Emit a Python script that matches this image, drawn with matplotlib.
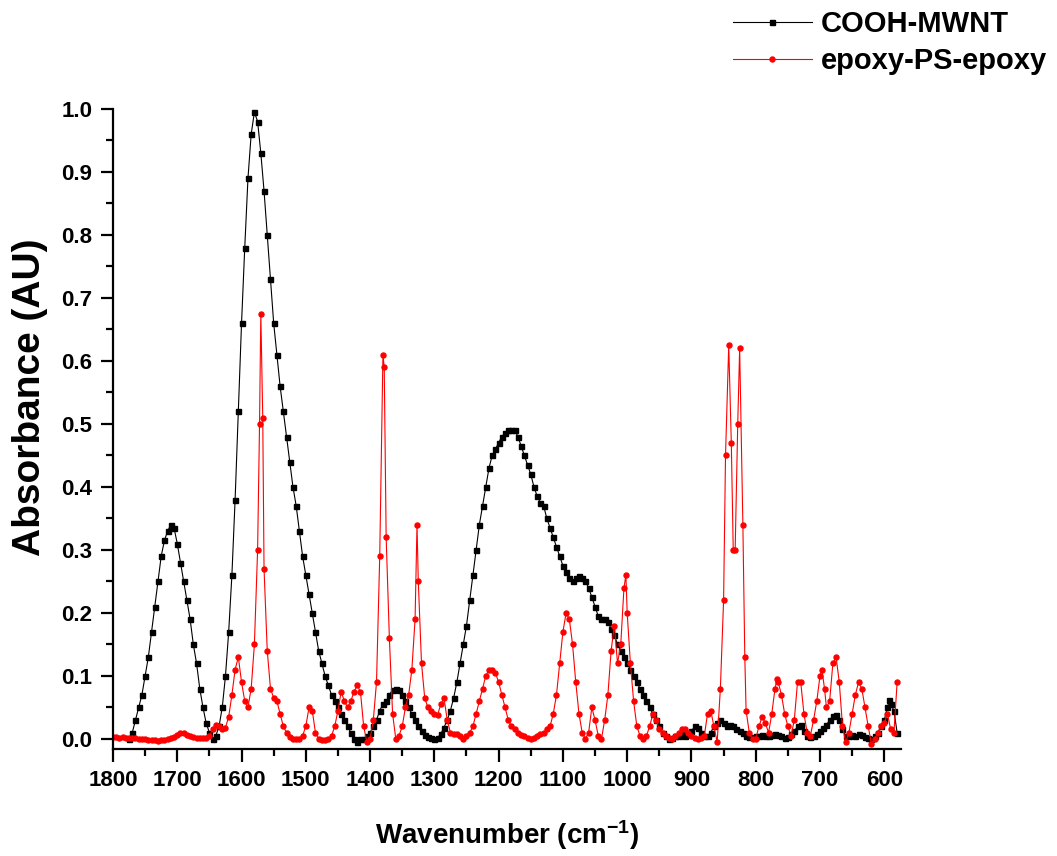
import matplotlib
matplotlib.use("Agg")
import matplotlib.pyplot as plt
from matplotlib.ticker import MultipleLocator, FormatStrFormatter

# ---------------- data ----------------
wn_cooh = [1775, 1770, 1765, 1760, 1755, 1750, 1745, 1740, 1735, 1730, 1725, 1720, 1715, 1710, 1705,
           1700, 1695, 1690, 1685, 1680, 1675, 1670, 1665, 1660, 1655, 1650, 1645, 1640, 1635, 1630,
           1625, 1620, 1615, 1610, 1605, 1600, 1595, 1590, 1585, 1580, 1575, 1570, 1565, 1560, 1555,
           1550, 1545, 1540, 1535, 1530, 1525, 1520, 1515, 1510, 1505, 1500, 1495, 1490, 1485, 1480,
           1475, 1470, 1465, 1460, 1455, 1450, 1445, 1440, 1435, 1430, 1425, 1420, 1415, 1410, 1405,
           1400, 1395, 1390, 1385, 1380, 1375, 1370, 1365, 1360, 1355, 1350, 1345, 1340, 1335, 1330,
           1325, 1320, 1315, 1310, 1305, 1300, 1295, 1290, 1285, 1280, 1275, 1270, 1265, 1260, 1255,
           1250, 1245, 1240, 1235, 1230, 1225, 1220, 1215, 1210, 1205, 1200, 1195, 1190, 1185, 1180,
           1175, 1170, 1165, 1160, 1155, 1150, 1145, 1140, 1135, 1130, 1125, 1120, 1115, 1110, 1105,
           1100, 1095, 1090, 1085, 1080, 1075, 1070, 1065, 1060, 1055, 1050, 1045, 1040, 1035, 1030,
           1025, 1020, 1015, 1010, 1005, 1000, 995, 990, 985, 980, 975, 970, 965, 960, 955,
           950, 945, 940, 935, 930, 925, 920, 915, 910, 905, 900, 895, 890, 885, 880,
           875, 870, 865, 860, 855, 850, 845, 840, 835, 830, 825, 820, 815, 810, 805,
           800, 795, 790, 785, 780, 775, 770, 765, 760, 755, 750, 745, 740, 735, 730,
           725, 720, 715, 710, 705, 700, 695, 690, 685, 680, 675, 670, 665, 660, 655,
           650, 645, 640, 635, 630, 625, 620, 615, 610, 605, 600, 595, 592, 590, 585, 580]
ab_cooh = [0.0, 0.01, 0.03, 0.05, 0.07, 0.10, 0.13, 0.17, 0.21, 0.25, 0.29, 0.315, 0.33, 0.34, 0.335,
           0.31, 0.28, 0.25, 0.22, 0.19, 0.15, 0.12, 0.08, 0.05, 0.025, 0.01, 0.0, 0.005, 0.02, 0.05,
           0.10, 0.17, 0.26, 0.38, 0.52, 0.66, 0.78, 0.89, 0.96, 0.995, 0.98, 0.93, 0.87, 0.80, 0.73,
           0.66, 0.61, 0.56, 0.52, 0.48, 0.44, 0.40, 0.37, 0.33, 0.29, 0.26, 0.23, 0.20, 0.17, 0.14,
           0.12, 0.10, 0.085, 0.07, 0.06, 0.05, 0.04, 0.03, 0.02, 0.01, 0.0, -0.005, 0.0, 0.0, 0.005,
           0.01, 0.02, 0.03, 0.045, 0.055, 0.06, 0.07, 0.078, 0.08, 0.078, 0.07, 0.06, 0.05, 0.04, 0.03,
           0.02, 0.013, 0.007, 0.003, 0.001, 0.0, 0.002, 0.008, 0.018, 0.03, 0.045, 0.065, 0.09, 0.12, 0.15,
           0.18, 0.22, 0.26, 0.30, 0.34, 0.37, 0.40, 0.43, 0.45, 0.46, 0.47, 0.48, 0.485, 0.49, 0.49,
           0.49, 0.48, 0.465, 0.45, 0.435, 0.42, 0.40, 0.385, 0.375, 0.37, 0.35, 0.335, 0.32, 0.305, 0.29,
           0.275, 0.265, 0.255, 0.25, 0.255, 0.258, 0.255, 0.25, 0.24, 0.225, 0.21, 0.195, 0.19, 0.19, 0.185,
           0.175, 0.165, 0.15, 0.14, 0.13, 0.12, 0.11, 0.10, 0.09, 0.08, 0.07, 0.06, 0.05, 0.04, 0.03,
           0.02, 0.01, 0.005, 0.0, 0.002, 0.005, 0.005, 0.008, 0.005, 0.008, 0.012, 0.02, 0.018, 0.01, 0.005,
           0.005, 0.01, 0.02, 0.025, 0.03, 0.025, 0.02, 0.022, 0.02, 0.015, 0.012, 0.01, 0.005, 0.003, 0.003,
           0.005, 0.004, 0.006, 0.004, 0.005, 0.007, 0.008, 0.007, 0.005, 0.002, 0.003, 0.008, 0.012, 0.02, 0.022,
           0.012, 0.005, 0.003, 0.004, 0.008, 0.012, 0.018, 0.022, 0.03, 0.036, 0.038, 0.03, 0.015, 0.005, 0.004,
           0.006, 0.005, 0.008, 0.006, 0.003, 0.002, 0.0, 0.005, 0.01, 0.02, 0.03, 0.05, 0.062, 0.055, 0.045, 0.01]

wn_eps = [1800, 1795, 1790, 1785, 1780, 1775, 1770, 1765, 1760, 1755, 1750, 1745, 1740, 1735, 1730,
          1725, 1720, 1715, 1710, 1705, 1700, 1695, 1690, 1685, 1680, 1675, 1670, 1665, 1660, 1655,
          1650, 1645, 1640, 1635, 1630, 1625, 1620, 1615, 1610, 1605, 1600, 1595, 1590, 1585, 1580,
          1575, 1572, 1570, 1567, 1565, 1560, 1555, 1550, 1545, 1540, 1535, 1530, 1525, 1520, 1515,
          1510, 1505, 1500, 1495, 1490, 1485, 1480, 1475, 1470, 1465, 1460, 1455, 1450, 1445, 1440,
          1435, 1430, 1425, 1420, 1415, 1410, 1405, 1400, 1395, 1390, 1385, 1380, 1378, 1375, 1370,
          1365, 1360, 1355, 1350, 1345, 1340, 1335, 1330, 1327, 1325, 1320, 1315, 1310, 1305, 1300,
          1295, 1290, 1285, 1280, 1275, 1270, 1265, 1260, 1255, 1250, 1245, 1240, 1235, 1230, 1225,
          1220, 1215, 1210, 1205, 1200, 1195, 1190, 1185, 1180, 1175, 1170, 1165, 1160, 1155, 1150,
          1145, 1140, 1135, 1130, 1125, 1120, 1115, 1110, 1105, 1100, 1095, 1090, 1085, 1080, 1075,
          1070, 1065, 1060, 1055, 1050, 1045, 1040, 1035, 1030, 1025, 1020, 1015, 1010, 1005, 1002,
          1000, 995, 990, 985, 980, 975, 970, 965, 960, 955, 950, 945, 940, 935, 930,
          925, 920, 915, 910, 905, 900, 895, 890, 885, 880, 875, 870, 865, 860, 855,
          850, 847, 842, 838, 835, 832, 828, 825, 820, 817, 815, 810, 805, 800, 795,
          790, 785, 780, 775, 770, 767, 765, 760, 755, 750, 745, 740, 735, 730, 725,
          720, 715, 710, 705, 700, 697, 693, 690, 685, 680, 675, 670, 665, 660, 655,
          650, 645, 640, 635, 630, 625, 620, 615, 610, 605, 600, 595, 590, 585, 580]
ab_eps = [0.003, 0.003, 0.002, 0.003, 0.002, 0.002, 0.001, 0.001, 0.0, 0.0, 0.0, -0.001, -0.002, -0.002, -0.003,
          -0.002, -0.001, 0.0, 0.001, 0.003, 0.006, 0.01, 0.01, 0.007, 0.005, 0.003, 0.002, 0.001, 0.001, 0.002,
          0.005, 0.015, 0.022, 0.02, 0.015, 0.018, 0.035, 0.07, 0.11, 0.13, 0.09, 0.06, 0.05, 0.08, 0.15,
          0.30, 0.50, 0.675, 0.51, 0.27, 0.14, 0.08, 0.065, 0.06, 0.04, 0.02, 0.01, 0.003, 0.0, 0.0,
          0.0, 0.005, 0.02, 0.05, 0.045, 0.01, 0.0, -0.002, -0.002, 0.0, 0.005, 0.02, 0.045, 0.075, 0.06,
          0.05, 0.06, 0.075, 0.085, 0.075, 0.02, -0.005, 0.0, 0.03, 0.09, 0.29, 0.61, 0.59, 0.32, 0.16,
          0.04, 0.0, 0.005, 0.02, 0.05, 0.07, 0.11, 0.19, 0.34, 0.25, 0.12, 0.065, 0.05, 0.045, 0.04,
          0.038, 0.055, 0.065, 0.03, 0.01, 0.008, 0.008, 0.005, 0.0, 0.005, 0.01, 0.02, 0.04, 0.06, 0.08,
          0.10, 0.11, 0.11, 0.105, 0.09, 0.07, 0.05, 0.03, 0.02, 0.015, 0.01, 0.007, 0.005, 0.002, 0.0,
          0.002, 0.005, 0.008, 0.01, 0.015, 0.02, 0.04, 0.07, 0.12, 0.17, 0.20, 0.19, 0.15, 0.09, 0.04,
          0.01, 0.0, 0.01, 0.05, 0.03, 0.005, 0.0, 0.03, 0.07, 0.14, 0.18, 0.12, 0.15, 0.24, 0.26,
          0.20, 0.12, 0.06, 0.02, 0.005, 0.0, 0.005, 0.02, 0.04, 0.03, 0.015, 0.01, 0.005, 0.002, 0.0,
          0.005, 0.01, 0.015, 0.015, 0.01, 0.005, 0.002, 0.0, 0.002, 0.005, 0.04, 0.045, 0.02, -0.005, 0.08,
          0.22, 0.45, 0.625, 0.47, 0.30, 0.30, 0.50, 0.62, 0.34, 0.13, 0.045, 0.01, 0.0, 0.0, 0.02,
          0.035, 0.025, 0.01, 0.04, 0.08, 0.095, 0.09, 0.07, 0.04, 0.02, 0.005, 0.03, 0.09, 0.09, 0.04,
          0.01, 0.005, 0.03, 0.06, 0.10, 0.11, 0.08, 0.05, 0.06, 0.12, 0.13, 0.09, 0.02, -0.005, 0.01,
          0.04, 0.07, 0.09, 0.08, 0.05, 0.02, -0.008, 0.0, 0.01, 0.02, 0.025, 0.04, 0.015, 0.01, 0.09]

series_labels = ["COOH-MWNT", "epoxy-PS-epoxy"]
x_ticks = [1800, 1700, 1600, 1500, 1400, 1300, 1200, 1100, 1000, 900, 800, 700, 600]
y_ticks = [0.0, 0.1, 0.2, 0.3, 0.4, 0.5, 0.6, 0.7, 0.8, 0.9, 1.0]

# ---------------- style ----------------
plt.rcParams['font.family'] = ['Liberation Sans', 'DejaVu Sans']
plt.rcParams['font.weight'] = 'bold'
plt.rcParams['mathtext.fontset'] = 'custom'
plt.rcParams['mathtext.rm'] = 'Liberation Sans:bold'
plt.rcParams['mathtext.default'] = 'rm'

fig = plt.figure(figsize=(10.57, 8.56), dpi=100)
ax = fig.add_axes([0.1069, 0.125, 0.7455, 0.7477])

ax.plot(wn_cooh, ab_cooh, color='black', lw=0.8, marker='s', ms=3.6,
        mec='black', mfc='black', label=series_labels[0])
ax.plot(wn_eps, ab_eps, color='red', lw=0.8, marker='o', ms=3.6,
        mec='red', mfc='red', label=series_labels[1])

ax.set_xlim(1800, 574)
ax.set_ylim(-0.016, 1.0)
ax.set_xticks(x_ticks)
ax.set_yticks(y_ticks)
ax.xaxis.set_minor_locator(MultipleLocator(50))
ax.yaxis.set_minor_locator(MultipleLocator(0.05))
ax.yaxis.set_major_formatter(FormatStrFormatter('%.1f'))

for s in ['top', 'right']:
    ax.spines[s].set_visible(False)
for s in ['left', 'bottom']:
    ax.spines[s].set_linewidth(1.6)

ax.tick_params(which='major', direction='out', length=9, width=1.6, labelsize=16, pad=6)
ax.tick_params(which='minor', direction='out', length=5, width=1.6)
for lab in ax.get_xticklabels() + ax.get_yticklabels():
    lab.set_fontweight('bold')

ax.set_xlabel('Wavenumber (cm$^{-1}$)', fontsize=20, fontweight='bold', labelpad=20)
ax.set_ylabel('Absorbance (AU)', fontsize=28, fontweight='bold')
ax.yaxis.set_label_coords(-0.083, 0.55)

fig.legend(loc='upper left', bbox_to_anchor=(733 / 1057, 1 - 10 / 856),
           frameon=False, fontsize=21, handlelength=2.7, handletextpad=0.3,
           labelspacing=0.3, borderpad=0, borderaxespad=0, numpoints=1,
           prop={'weight': 'bold', 'size': 21})

fig.savefig('out.png', dpi=100)
